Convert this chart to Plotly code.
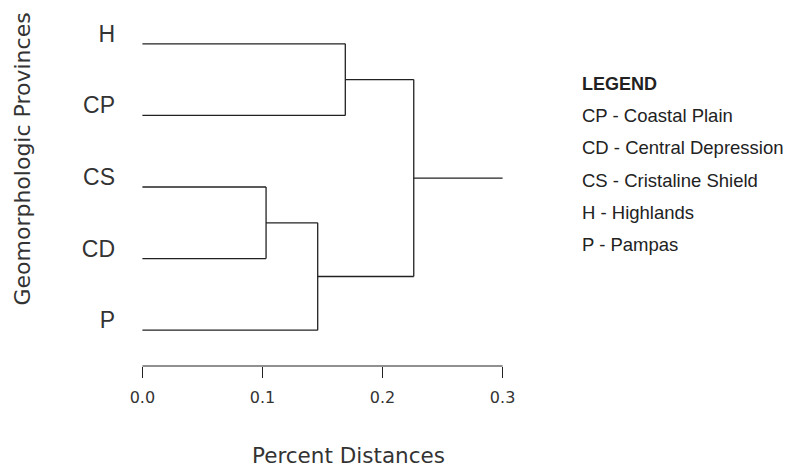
import plotly.graph_objects as go

# ---- data ----
leaves = ["H", "CP", "CS", "CD", "P"]
leaf_pos = [5, 4, 3, 2, 1]
# merges: (left cluster, right cluster, height)
merge_left = ["H", "CS", "CS+CD", "H+CP"]
merge_right = ["CP", "CD", "P", "CS+CD+P"]
merge_height = [0.169, 0.103, 0.146, 0.226]
root_end = 0.3
x_ticks = [0.0, 0.1, 0.2, 0.3]
x_tick_labels = ["0.0", "0.1", "0.2", "0.3"]
legend_title = "LEGEND"
legend_items = ["CP - Coastal Plain", "CD - Central Depression",
                "CS - Cristaline Shield", "H - Highlands", "P - Pampas"]

# ---- build dendrogram segments ----
node_y = {name: y for name, y in zip(leaves, leaf_pos)}
node_x = {name: 0.0 for name in leaves}
xs, ys = [], []
for a, b, h in zip(merge_left, merge_right, merge_height):
    for n in (a, b):
        xs += [node_x[n], h, None]
        ys += [node_y[n], node_y[n], None]
    xs += [h, h, None]
    ys += [node_y[a], node_y[b], None]
    new = a + "+" + b
    node_x[new] = h
    node_y[new] = (node_y[a] + node_y[b]) / 2
root = merge_left[-1] + "+" + merge_right[-1]
xs += [node_x[root], root_end]
ys += [node_y[root], node_y[root]]

W, H = 786, 468
ml, mr, mt, mb = 128.3, 269.3, 8.25, 102.3
pw, ph = W - ml - mr, H - mt - mb

def px(x):
    return (x - ml) / pw

def py(y):
    return (mt + ph - y) / ph

line_col = "#222222"
txt_col = "#333333"

fig = go.Figure()
fig.add_trace(go.Scatter(x=xs, y=ys, mode="lines",
                         line=dict(color=line_col, width=1.3),
                         hoverinfo="skip", showlegend=False))

fig.update_layout(
    width=W, height=H,
    margin=dict(l=ml, r=mr, t=mt, b=mb, autoexpand=False),
    plot_bgcolor="white", paper_bgcolor="white",
    showlegend=False,
    xaxis=dict(range=[-0.012, 0.312], tickvals=x_ticks, ticktext=x_tick_labels,
               ticks="outside", ticklen=11, tickwidth=1.2, tickcolor=line_col,
               ticklabelstandoff=6,
               showline=False, showgrid=False, zeroline=False,
               tickfont=dict(family="DejaVu Sans", size=16, color=txt_col)),
    yaxis=dict(range=[0.5, 5.5], tickvals=leaf_pos, ticktext=leaves,
               ticks="", showline=False, showgrid=False, zeroline=False,
               ticklabelstandoff=12, ticklabelshift=-10,
               tickfont=dict(family="Liberation Sans", size=23, color=txt_col)),
)

# x axis line spanning only the tick range
fig.add_shape(type="line", xref="x", yref="paper",
              x0=x_ticks[0], x1=x_ticks[-1], y0=0, y1=0,
              line=dict(color=line_col, width=1.2))

# axis titles
fig.add_annotation(text="Percent Distances", xref="paper", yref="paper",
                   x=px(348), y=py(455), xanchor="center", yanchor="middle",
                   showarrow=False,
                   font=dict(family="DejaVu Sans", size=21.5, color=txt_col))
fig.add_annotation(text="Geomorphologic Provinces", xref="paper", yref="paper",
                   x=px(23), y=py(159), xanchor="center", yanchor="middle",
                   textangle=-90, showarrow=False,
                   font=dict(family="DejaVu Sans", size=22, color=txt_col))

# legend block
fig.add_annotation(text="<b>" + legend_title + "</b>", xref="paper", yref="paper",
                   x=px(580), y=py(84), xanchor="left", yanchor="middle",
                   showarrow=False,
                   font=dict(family="Liberation Sans", size=18, color="#222222"))
for i, item in enumerate(legend_items):
    fig.add_annotation(text=item, xref="paper", yref="paper",
                       x=px(580), y=py(116 + 32 * i), xanchor="left", yanchor="middle",
                       showarrow=False,
                       font=dict(family="Liberation Sans", size=18.5, color="#222222"))

fig.write_html("out.html",
               config={"displayModeBar": False},
               post_script="document.documentElement.style.margin='0';"
                           "document.body.style.margin='0';"
                           "document.body.style.overflow='hidden';")
